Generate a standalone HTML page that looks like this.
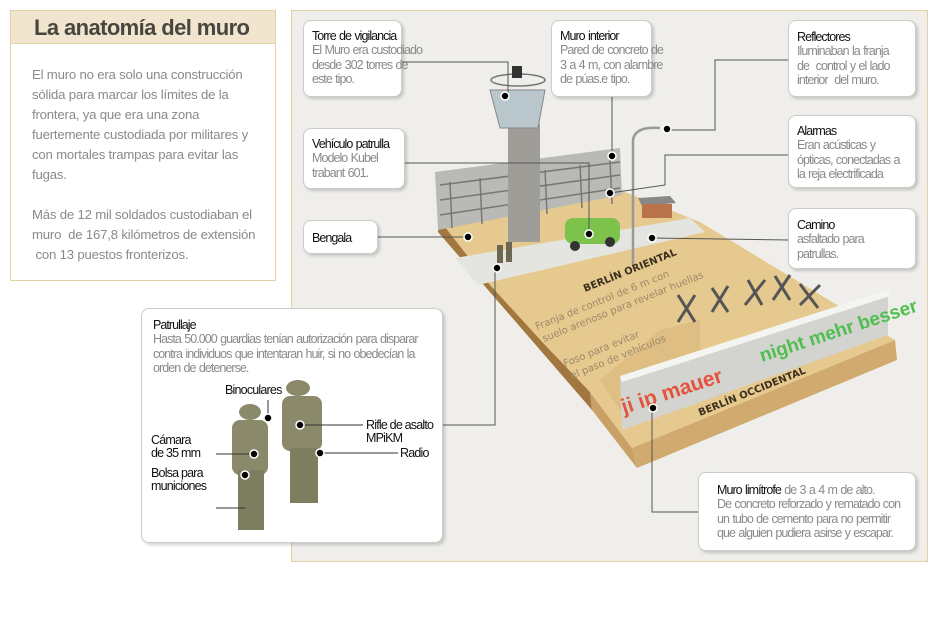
<!DOCTYPE html>
<html><head><meta charset="utf-8"><style>
*{margin:0;padding:0;box-sizing:border-box}
body{width:938px;height:630px;background:#fff;position:relative;overflow:hidden;font-family:"Liberation Sans",sans-serif}
.lb{position:absolute;left:10px;top:10px;width:266px;height:271px;border:1px solid #e6cfa6;background:#fff}
.lb .h{height:33px;background:#f1e5d0;border-bottom:1px solid #e6cfa6;font-size:22px;font-weight:bold;color:#47463f;padding:4px 0 0 23px;letter-spacing:-0.6px}
.lb p{font-size:13.2px;color:#8a8a8a;line-height:20px;padding:0 0 0 21px;letter-spacing:-0.2px;white-space:nowrap}
.main{position:absolute;left:291px;top:10px;width:637px;height:552px;background:#efeeea;border:1px solid #e6cfa6}
.c{position:absolute;background:#fff;border:1px solid #ccc;border-radius:8px;box-shadow:2px 2px 3px rgba(0,0,0,.18);font-size:12.5px;line-height:14.3px;color:#8a8a8a;padding:8px 0 0 8px;letter-spacing:-0.95px;word-spacing:0.8px;white-space:nowrap}
.c b{font-weight:normal;color:#111}
svg{position:absolute;left:0;top:0}
.s{position:absolute;font-size:12.5px;color:#111;line-height:13px;letter-spacing:-0.8px;white-space:nowrap}
</style></head><body>
<div class="lb"><div class="h">La anatomía del muro</div>
<p style="margin-top:21px">El muro no era solo una construcción<br>sólida para marcar los límites de la<br>frontera, ya que era una zona<br>fuertemente custodiada por militares y<br>con mortales trampas para evitar las<br>fugas.</p>
<p style="margin-top:20px">Más de 12 mil soldados custodiaban el<br>muro&nbsp; de 167,8 kilómetros de extensión<br>&nbsp;con 13 puestos fronterizos.</p></div>
<div class="main"></div>
<svg width="938" height="630">
<polygon points="438,218 590,392 592,410 438,232" fill="#a2763f"/>
<polygon points="590,392 632,448 637,468 592,410" fill="#c9a066"/>
<polygon points="632,448 895,340 897,360 637,468" fill="#d0aa6e"/>
<polygon points="438,218 620,190 700,222 895,340 632,448 590,392 545,345 490,285" fill="#e6c98e"/>
<polygon points="600,380 660,330 700,320 700,360 620,410" fill="#d9b87a" opacity=".6"/>
<polygon points="455,258 690,218 705,232 478,285" fill="#e4e4e0"/>
<polygon points="435,172 620,148 622,195 438,230" fill="#b9b9b5"/>
<g stroke="#777" stroke-width="1.5">
<line x1="440" y1="185" x2="620" y2="162"/><line x1="440" y1="200" x2="620" y2="175"/><line x1="440" y1="215" x2="620" y2="188"/>
<line x1="450" y1="182" x2="452" y2="228"/><line x1="480" y1="178" x2="482" y2="224"/><line x1="510" y1="174" x2="512" y2="220"/><line x1="545" y1="170" x2="547" y2="214"/><line x1="580" y1="165" x2="582" y2="208"/><line x1="610" y1="160" x2="612" y2="204"/>
</g>
<rect x="508" y="124" width="32" height="118" fill="#9e9d98"/>
<polygon points="490,90 545,90 538,128 500,128" fill="#b9c6cc" stroke="#888"/>
<ellipse cx="518" cy="80" rx="27" ry="6" fill="none" stroke="#777" stroke-width="1.5"/>
<rect x="512" y="66" width="10" height="12" fill="#333"/>
<path d="M633,265 L633,140 Q635,126 660,128" stroke="#999" stroke-width="2.5" fill="none"/>
<polygon points="638,198 670,196 676,203 642,206" fill="#888"/><rect x="642" y="204" width="30" height="14" fill="#b8734a"/>
<rect x="565" y="218" width="55" height="26" rx="8" fill="#7cc24b"/><circle cx="575" cy="246" r="5" fill="#333"/><circle cx="610" cy="242" r="5" fill="#333"/>
<rect x="497" y="245" width="6" height="18" fill="#6d6650"/><rect x="506" y="242" width="6" height="20" fill="#6d6650"/>
<g stroke="#555" stroke-width="3">
<path d="M678,295 L695,322 M695,295 L678,322"/><path d="M712,288 L728,312 M728,286 L712,312"/><path d="M748,280 L762,305 M765,280 L745,305"/><path d="M775,276 L790,300 M790,275 L773,300"/><path d="M800,284 L818,308 M820,285 L800,305"/>
</g>
<polygon points="620,378 888,292 888,335 622,430" fill="#d3d3cf"/>
<polygon points="620,376 888,290 890,296 622,382" fill="#f4f4f2"/>
<text x="624" y="414" font-size="21" font-weight="bold" fill="#e4543c" transform="rotate(-18 624 414)" font-family="Liberation Sans">ji ip mauer</text>
<text x="762" y="362" font-size="19" font-weight="bold" fill="#4fbf4f" transform="rotate(-18 762 362)" font-family="Liberation Sans">night mehr besser</text>
<g font-family="DejaVu Sans" font-weight="bold" fill="#3a2e1e" font-size="10">
<text x="585" y="292" transform="rotate(-22 585 292)">BERLÍN ORIENTAL</text>
<text x="700" y="416" transform="rotate(-22 700 416)">BERLÍN OCCIDENTAL</text>
</g>
<g font-family="DejaVu Sans" fill="#9b8a6a" font-size="10">
<text x="537" y="330" transform="rotate(-22 537 330)">Franja de control de 6 m con</text>
<text x="544" y="342" transform="rotate(-22 544 342)">suelo arenoso para revelar huellas</text>
<text x="565" y="367" transform="rotate(-22 565 367)">Foso para evitar</text>
<text x="572" y="379" transform="rotate(-22 572 379)">el paso de vehículos</text>
</g>
<g stroke="#555" stroke-width="1" fill="none">
<polyline points="402,62 508,62 508,95"/><polyline points="612,97 612,155"/><polyline points="405,163 589,163 589,234"/>
<polyline points="788,60 715,60 715,130 668,130"/><polyline points="788,155 665,155 665,185 610,193"/>
<polyline points="378,237 468,237"/><polyline points="788,240 652,238"/>
<polyline points="443,425 495,425 495,268"/><polyline points="698,512 652,512 652,408"/>
</g>
<g fill="#000" stroke="#fff" stroke-width="1.5">
<circle cx="505" cy="96" r="4"/><circle cx="612" cy="156" r="4"/><circle cx="589" cy="234" r="4"/><circle cx="667" cy="129" r="4"/><circle cx="610" cy="193" r="4"/><circle cx="468" cy="237" r="4"/><circle cx="652" cy="238" r="4"/><circle cx="497" cy="268" r="4"/><circle cx="653" cy="408" r="4"/>
</g>
</svg>
<div class="c" style="left:303px;top:20px;width:99px;height:77px"><b>Torre de vigilancia</b><br>El Muro era custodiado<br>desde 302 torres de<br>este tipo.</div>
<div class="c" style="left:551px;top:20px;width:101px;height:77px"><b>Muro interior</b><br>Pared de concreto de<br>3 a 4 m, con alambre<br>de púas.e tipo.</div>
<div class="c" style="left:788px;top:20px;width:128px;height:77px;padding-top:9px"><b>Reflectores</b><br>Iluminaban la franja<br>de&nbsp; control y el lado<br>interior&nbsp; del muro.</div>
<div class="c" style="left:303px;top:128px;width:102px;height:61px"><b>Vehículo patrulla</b><br>Modelo Kubel<br>trabant 601.</div>
<div class="c" style="left:788px;top:115px;width:128px;height:73px"><b>Alarmas</b><br>Eran acústicas y<br>ópticas, conectadas a<br>la reja electrificada</div>
<div class="c" style="left:303px;top:220px;width:75px;height:34px;padding-top:10px"><b>Bengala</b></div>
<div class="c" style="left:788px;top:208px;width:128px;height:61px;padding-top:9px"><b>Camino</b><br>asfaltado para<br>patrullas.</div>
<div class="c" style="left:698px;top:472px;width:218px;height:79px;padding:10px 0 0 18px"><b>Muro limítrofe</b> de 3 a 4 m de alto.<br>De concreto reforzado y rematado con<br>un tubo de cemento para no permitir<br>que alguien pudiera asirse y escapar.</div>
<div class="c" style="left:141px;top:308px;width:302px;height:235px;padding:9px 0 0 11px"><b>Patrullaje</b><br>Hasta 50.000 guardias tenían autorización para disparar<br>contra individuos que intentaran huir, si no obedecían la<br>orden de detenerse.</div>
<svg width="938" height="630" style="pointer-events:none">
<g fill="#8a8a6a"><ellipse cx="250" cy="412" rx="11" ry="8"/><rect x="232" y="420" width="36" height="55" rx="8"/><rect x="238" y="470" width="26" height="60" fill="#7d7d5f"/>
<ellipse cx="298" cy="388" rx="12" ry="8"/><rect x="282" y="396" width="40" height="55" rx="8"/><rect x="290" y="448" width="28" height="55" fill="#7d7d5f"/></g>
<g stroke="#333" fill="none"><line x1="216" y1="454" x2="253" y2="454"/><line x1="216" y1="508" x2="245" y2="508"/><line x1="268" y1="400" x2="268" y2="418"/><line x1="300" y1="425" x2="363" y2="425"/><line x1="320" y1="453" x2="398" y2="453"/></g>
<g fill="#000" stroke="#fff" stroke-width="1.5"><circle cx="254" cy="454" r="4"/><circle cx="245" cy="475" r="4"/><circle cx="268" cy="418" r="4"/><circle cx="300" cy="425" r="4"/><circle cx="320" cy="453" r="4"/></g>
</svg>
<div class="s" style="left:225px;top:384px">Binoculares</div>
<div class="s" style="left:151px;top:434px">Cámara<br>de 35 mm</div>
<div class="s" style="left:151px;top:467px">Bolsa para<br>municiones</div>
<div class="s" style="left:366px;top:419px">Rifle de asalto<br>MPiKM</div>
<div class="s" style="left:400px;top:447px">Radio</div>
</body></html>
